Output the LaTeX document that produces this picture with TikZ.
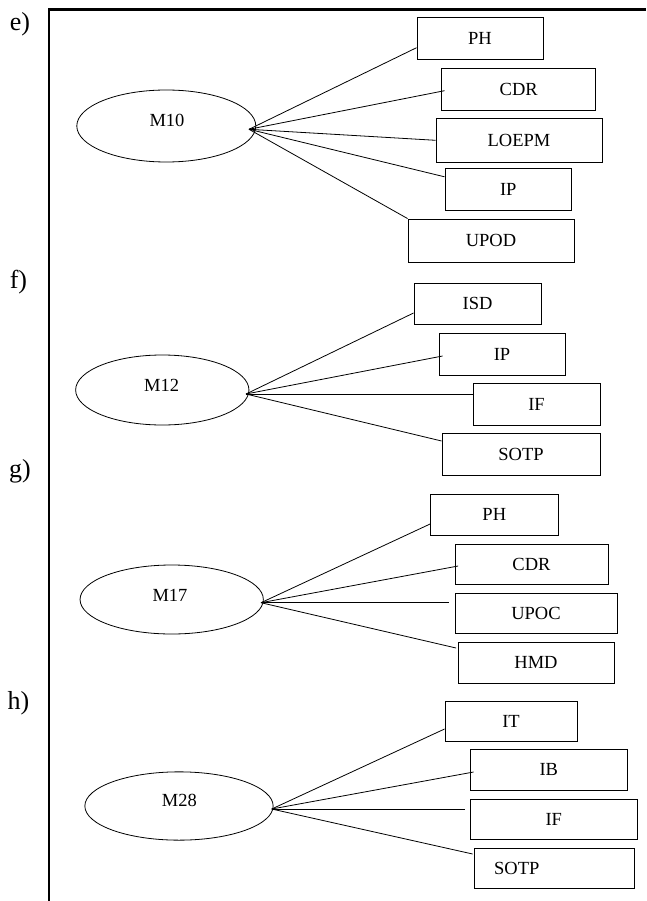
\documentclass[tikz,border=0pt]{standalone}
\usepackage{fontspec}
\setmainfont{Liberation Serif}
\usepackage{tikz}
\usetikzlibrary{shapes.geometric,calc}

\begin{document}
\begin{tikzpicture}[x=1pt,y=-1pt,
  box/.style={draw, line width=0.9pt, inner sep=0pt, font=\fontsize{18.5}{20}\selectfont},
  oval/.style={draw, ellipse, line width=0.8pt, inner sep=0pt},
  txt/.style={inner sep=0pt, font=\fontsize{18.5}{20}\selectfont},
  lbl/.style={inner sep=0pt, font=\fontsize{26}{28}\selectfont},
  link/.style={line width=0.8pt}]
\useasboundingbox (0,0) rectangle (646,901);
% рамка
\draw [line width=2.6pt] (49,901) -- (49,9.7) -- (646,9.7);
% подписи
\node [lbl] (le) at (20,24.5) {e)};
\node [lbl] (lf) at (18.5,282) {f)};
\node [lbl] (lg) at (20,471) {g)};
\node [lbl] (lh) at (18.5,703.5) {h)};
% e)
\node [oval, minimum width=179pt, minimum height=72pt] (m10) at (166.3,126) {};
\node [txt] (m10t) at (167,120) {M10};
\coordinate (m10p) at (249,129.3);
\node [box, minimum width=126pt, minimum height=42pt] (ph10) at (480,38.3) {PH};
\node [box, minimum width=154pt, minimum height=41.7pt] (cdr10) at (518.7,89.2) {CDR};
\node [box, minimum width=166pt, minimum height=44pt] (loepm10) at (519,140.3) {LOEPM};
\node [box, minimum width=126.7pt, minimum height=41.7pt] (ip10) at (508.3,189.8) {IP};
\node [box, minimum width=166pt, minimum height=43pt] (upod10) at (491,240.5) {UPOD};
\draw [link] (m10p) -- ($(ph10.west)+(0,9.4)$);
\draw [link] (m10p) -- ($(cdr10.west)+(3.3,1.5)$);
\draw [link] (m10p) -- (loepm10.west);
\draw [link] (m10p) -- ($(ip10.west)+(0,-13)$);
\draw [link] (m10p) -- (upod10.north west);
% f)
\node [oval, minimum width=173.3pt, minimum height=70pt] (m12) at (162.3,390) {};
\node [txt] (m12t) at (161.7,385) {M12};
\coordinate (m12p) at (246,394);
\node [box, minimum width=127pt, minimum height=41pt] (isd12) at (477.5,303.5) {ISD};
\node [box, minimum width=126pt, minimum height=42pt] (ip12) at (502,354) {IP};
\node [box, minimum width=127pt, minimum height=42pt] (if12) at (536.5,404) {IF};
\node [box, minimum width=158pt, minimum height=42pt] (sotp12) at (521,454) {SOTP};
\draw [link] (m12p) -- ($(isd12.west)+(0,9.5)$);
\draw [link] (m12p) -- ($(ip12.west)+(4,2)$);
\draw [link] (m12p) -- ($(if12.west)+(0,-10)$);
\draw [link] (m12p) -- ($(sotp12.west)+(0,-13)$);
% g)
\node [oval, minimum width=183.3pt, minimum height=69pt] (m17) at (171.7,599.5) {};
\node [txt] (m17t) at (170,595) {M17};
\coordinate (m17p) at (261,602.7);
\node [box, minimum width=127.5pt, minimum height=41pt] (ph17) at (494.3,514.5) {PH};
\node [box, minimum width=153pt, minimum height=40pt] (cdr17) at (531.5,564) {CDR};
\node [box, minimum width=162pt, minimum height=40pt] (upoc17) at (536,613) {UPOC};
\node [box, minimum width=156pt, minimum height=41pt] (hmd17) at (536,662.5) {HMD};
\draw [link] (m17p) -- ($(ph17.west)+(0,9.5)$);
\draw [link] (m17p) -- ($(cdr17.west)+(3.6,2)$);
\draw [link] (m17p) -- ($(upoc17.west)+(-6,-10.3)$);
\draw [link] (m17p) -- ($(hmd17.west)+(-1.5,-14.5)$);
% h)
\node [oval, minimum width=188.3pt, minimum height=68.3pt] (m28) at (179,806) {};
\node [txt] (m28t) at (179.3,800.7) {M28};
\coordinate (m28p) at (271.7,809);
\node [box, minimum width=132pt, minimum height=40pt] (it28) at (511,721) {IT};
\node [box, minimum width=156.5pt, minimum height=41pt] (ib28) at (548.8,769.5) {IB};
\node [box, minimum width=166.5pt, minimum height=40pt] (if28) at (553.8,819) {IF};
\node [box, minimum height=40pt, inner xsep=19.5pt, text width=120.4pt, align=left] (sotp28) at (554.3,868) {SOTP};
\draw [link] (m28p) -- ($(it28.west)+(0,8)$);
\draw [link] (m28p) -- ($(ib28.west)+(3.5,2.5)$);
\draw [link] (m28p) -- ($(if28.west)+(-5,-10)$);
\draw [link] (m28p) -- ($(sotp28.west)+(-1.5,-14)$);
\end{tikzpicture}
\end{document}
